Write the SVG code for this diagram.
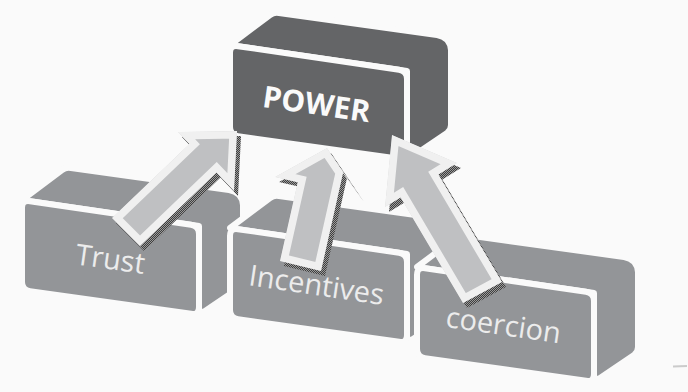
<svg xmlns="http://www.w3.org/2000/svg" xmlns:xlink="http://www.w3.org/1999/xlink" width="688" height="392" viewBox="0 0 688 392">
  <style>
    .back, .front { stroke: #fafafa; stroke-width: 6; stroke-linejoin: round; }
    .lo { fill: #939598; }
    .hi { fill: #646567; }
    .lbl { font-family: "Open Sans", "Noto Sans", "Liberation Sans", sans-serif; font-size: 29px; fill: #ececec; text-anchor: middle; }
    .lbl-top { font-weight: bold; font-size: 30px; fill: #fafafa; }
    .arrow-body { fill: #bfc0c2; stroke: #f0f0f0; stroke-width: 15; stroke-linejoin: miter; }
    .arrow-shadow { fill: url(#dither); }
  </style>
  <defs>
    <!-- checker dither used for the drop shadows -->
    <pattern id="dither" width="2" height="2" patternUnits="userSpaceOnUse">
      <rect width="2" height="2" fill="#9a9a9a"/>
      <rect width="1" height="1" fill="#3e3e3e"/>
      <rect x="1" y="1" width="1" height="1" fill="#3e3e3e"/>
    </pattern>
    <!-- block: top + side faces, relative to the front face's top-left corner -->
    <path id="box-back" d="M0,0 L40,-30 Q44,-33 49,-32 L207,-10 Q220,-8 221,5 L221,80 Q221,85 217,88 L183,111 L177,113 L177,26 Z"/>
    <!-- block: front face -->
    <path id="box-front" d="M0,8 Q0,0 8,1.2 L169,24.8 Q177,26 177,34 L177,107 Q177,115 169,113.8 L8,91.2 Q0,90 0,82 Z"/>
    <!-- block arrows -->
    <path id="arrow-trust" d="M237,131 L234,191 L216.5,172.6 L140,246 L112,218 L189.3,143.9 L178,132 Z"/>
    <path id="arrow-incentives" d="M327,148 L360,197 L343,173 L321,271 L280,261 L297.7,182.3 L275,177 Z"/>
    <path id="arrow-coercion" d="M392,135 L457,163 L438.4,174.4 L502,282 L463,303 L400.6,197.4 L385,207 Z"/>
    <clipPath id="clip-trust"><use xlink:href="#arrow-trust"/></clipPath>
    <clipPath id="clip-incentives"><use xlink:href="#arrow-incentives"/></clipPath>
    <clipPath id="clip-coercion"><use xlink:href="#arrow-coercion"/></clipPath>
  </defs>

  <rect width="688" height="392" fill="#fafafa"/>

  <g id="power">
    <use xlink:href="#box-back" class="back hi" transform="translate(230,45)"/>
    <use xlink:href="#box-front" class="front hi" transform="translate(230,45)"/>
    <text class="lbl lbl-top" x="315" y="114.5" transform="rotate(8.2 315 114.5)">POWER</text>
  </g>

  <g id="trust">
    <use xlink:href="#box-back" class="back lo" transform="translate(22,200)"/>
    <use xlink:href="#box-front" class="front lo" transform="translate(22,200)"/>
    <text class="lbl" x="109" y="269" transform="rotate(8 109 269)">Trust</text>
  </g>

  <g id="incentives">
    <use xlink:href="#box-back" class="back lo" transform="translate(230,228)"/>
    <use xlink:href="#box-front" class="front lo" transform="translate(230,228)"/>
    <text class="lbl" x="315" y="295" transform="rotate(8.5 315 295)">Incentives</text>
  </g>

  <g id="coercion">
    <use xlink:href="#box-back" class="back lo" transform="translate(417,267)"/>
    <use xlink:href="#box-front" class="front lo" transform="translate(417,267)"/>
    <text class="lbl" x="502" y="335" transform="rotate(8.3 502 335)">coercion</text>
  </g>

  <g id="connectors">
    <use xlink:href="#arrow-trust" class="arrow-shadow" transform="translate(4,5)"/>
    <use xlink:href="#arrow-trust" class="arrow-body" clip-path="url(#clip-trust)"/>
    <use xlink:href="#arrow-incentives" class="arrow-shadow" transform="translate(4,5)"/>
    <use xlink:href="#arrow-incentives" class="arrow-body" clip-path="url(#clip-incentives)"/>
    <use xlink:href="#arrow-coercion" class="arrow-shadow" transform="translate(4,5)"/>
    <use xlink:href="#arrow-coercion" class="arrow-body" clip-path="url(#clip-coercion)"/>
  </g>

  <line x1="673" y1="366.5" x2="687" y2="366" stroke="#cbcbcb" stroke-width="2"/>
</svg>
